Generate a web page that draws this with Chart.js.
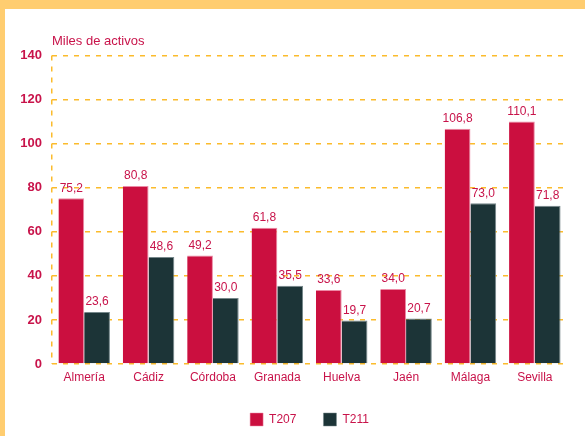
<!DOCTYPE html>
<html>
<head>
<meta charset="utf-8">
<script src="https://cdn.jsdelivr.net/npm/chart.js@4"></script>
<style>
  html, body { margin: 0; padding: 0; background: #ffffff; }
  #wrap {
    position: absolute; left: 0; top: 0;
    width: 585px; height: 436px;
    box-sizing: border-box;
    border-top: 9px solid #ffcd70;
    border-left: 5px solid #ffcd70;
    background: #ffffff;
  }
  #c { display: block; }
</style>
</head>
<body>
<div id="wrap"><canvas id="c" width="580" height="427"></canvas></div>
<script>
const categories = ['Almería', 'Cádiz', 'Córdoba', 'Granada', 'Huelva', 'Jaén', 'Málaga', 'Sevilla'];
const seriesT207 = [75.2, 80.8, 49.2, 61.8, 33.6, 34.0, 106.8, 110.1];
const seriesT211 = [23.6, 48.6, 30.0, 35.5, 19.7, 20.7, 73.0, 71.8];
const seriesNames = ['T207', 'T211'];
const yTicks = [0, 20, 40, 60, 80, 100, 120, 140];
const axisTitle = 'Miles de activos';

const RED = '#cb0f3f';
const DARK = '#1c3437';
const TEXT = '#c8134a';
const GRID = '#fbbb2c';
const FONT = "'Liberation Sans', sans-serif";

const valueLabels = {
  id: 'valueLabels',
  afterDatasetsDraw(chart) {
    const ctx = chart.ctx;
    ctx.save();
    ctx.font = '12px ' + FONT;
    ctx.fillStyle = TEXT;
    ctx.textAlign = 'center';
    ctx.textBaseline = 'bottom';
    chart.data.datasets.forEach((ds, di) => {
      const meta = chart.getDatasetMeta(di);
      meta.data.forEach((el, i) => {
        const v = ds.data[i];
        ctx.fillText(v.toFixed(1).replace('.', ','), el.x, el.y - 4);
      });
    });
    ctx.restore();
  }
};

new Chart(document.getElementById('c'), {
  type: 'bar',
  data: {
    labels: categories,
    datasets: [
      { label: seriesNames[0], data: seriesT207, backgroundColor: RED,
        borderColor: '#ec8aa5', borderWidth: { top: 1, right: 1, left: 0, bottom: 0 } },
      { label: seriesNames[1], data: seriesT211, backgroundColor: DARK,
        borderColor: '#75878a', borderWidth: { top: 1, right: 1, left: 0, bottom: 0 } }
    ]
  },
  options: {
    responsive: false,
    animation: false,
    devicePixelRatio: 1,
    layout: { padding: { left: 0, right: 18, top: 0, bottom: 0 } },
    datasets: { bar: { categoryPercentage: 0.8, barPercentage: 1.0 } },
    scales: {
      x: {
        offset: true,
        grid: {
          display: true, drawTicks: false, offset: true, lineWidth: 1.5,
          color: (c) => (c.index === 0 ? GRID : 'rgba(0,0,0,0)')
        },
        border: { display: false, dash: [5, 6] },
        ticks: { color: TEXT, font: { family: FONT, size: 12 }, padding: 6 },
        afterFit(scale) { scale.height = 22; }
      },
      y: {
        min: 0, max: 140,
        afterBuildTicks(scale) { scale.ticks = yTicks.map(v => ({ value: v })); },
        grid: { display: true, color: GRID, lineWidth: 1.5, drawTicks: false },
        border: { display: false, dash: [5, 6] },
        ticks: { color: TEXT, font: { family: FONT, size: 13, weight: 'bold' }, padding: 10 },
        afterFit(scale) { scale.width = 47; }
      }
    },
    plugins: {
      title: {
        display: true, text: axisTitle, align: 'start', fullSize: false,
        color: TEXT, font: { family: FONT, size: 13, weight: 'normal' },
        padding: { top: 25, bottom: 6 }
      },
      legend: {
        display: true, position: 'bottom', fullSize: false,
        labels: {
          color: TEXT, font: { family: FONT, size: 12 },
          boxWidth: 13, boxHeight: 13, padding: 27
        }
      },
      tooltip: { enabled: false }
    }
  },
  plugins: [valueLabels]
});
</script>
</body>
</html>
